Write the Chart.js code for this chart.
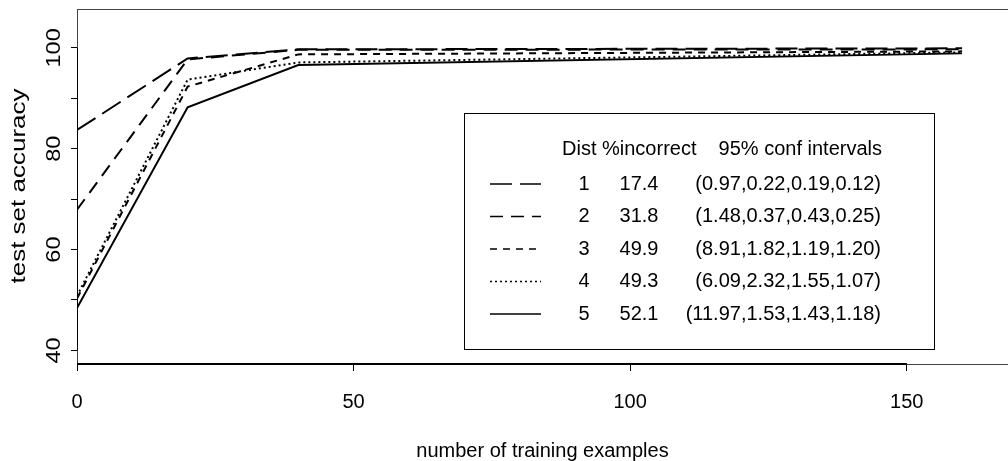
<!DOCTYPE html>
<html>
<head>
<meta charset="utf-8">
<script src="https://cdn.jsdelivr.net/npm/chart.js@4.4.0/dist/chart.umd.min.js"></script>
<style>
  body { margin: 0; background: #fff; }
  canvas { display: block; }
</style>
</head>
<body>
<canvas id="accuracyChart" width="1008" height="461"></canvas>
<script>
// data
const trainingExamples = [0, 20, 40, 160];
const dist1 = [83.7, 97.9, 99.7, 99.9];
const dist2 = [67.9, 97.7, 99.6, 99.7];
const dist3 = [50.3, 92.3, 98.7, 99.3];
const dist4 = [50.8, 93.7, 97.1, 99.1];
const dist5 = [48.4, 88.2, 96.6, 98.9];

const distNames = ['1', '2', '3', '4', '5'];
const pctIncorrect = ['17.4', '31.8', '49.9', '49.3', '52.1'];
const confIntervals = [
  '(0.97,0.22,0.19,0.12)',
  '(1.48,0.37,0.43,0.25)',
  '(8.91,1.82,1.19,1.20)',
  '(6.09,2.32,1.55,1.07)',
  '(11.97,1.53,1.43,1.18)'
];

const xTicks = [0, 50, 100, 150];
const yTicks = [40, 50, 60, 70, 80, 90, 100];
const yLabels = [40, 60, 80, 100];

const lineDashes = [[22, 8], [13, 8], [7, 6], [2, 3], []];
const FONT = '"Liberation Sans", Arial, sans-serif';

const allSeries = [dist1, dist2, dist3, dist4, dist5];

const datasets = allSeries.map((vals, i) => ({
  label: 'Dist ' + distNames[i],
  data: trainingExamples.map((x, j) => ({ x: x, y: vals[j] })),
  borderColor: '#000',
  borderWidth: 2,
  borderDash: lineDashes[i],
  pointRadius: 0,
  tension: 0,
  fill: false
}));

// box, axis lines, rotated y labels and the legend table
const extras = {
  id: 'extras',
  afterDraw(chart) {
    const ctx = chart.ctx;
    const area = chart.chartArea;
    const xs = chart.scales.x;
    const ys = chart.scales.y;
    ctx.save();

    ctx.strokeStyle = '#444';
    ctx.lineWidth = 1;
    ctx.strokeRect(area.left + 0.5, area.top + 0.5, area.right - area.left + 20, area.bottom - area.top);

    ctx.strokeStyle = '#000';
    ctx.lineWidth = 2;
    ctx.beginPath();
    ctx.moveTo(xs.getPixelForValue(xTicks[0]), area.bottom);
    ctx.lineTo(xs.getPixelForValue(xTicks[xTicks.length - 1]), area.bottom);
    ctx.stroke();
    ctx.lineWidth = 1;
    ctx.beginPath();
    ctx.moveTo(area.left + 0.5, ys.getPixelForValue(yTicks[0]));
    ctx.lineTo(area.left + 0.5, ys.getPixelForValue(yTicks[yTicks.length - 1]));
    ctx.stroke();

    // y tick labels + title, rotated and a bit stretched like the original
    ctx.fillStyle = '#000';
    ctx.textAlign = 'center';
    ctx.textBaseline = 'middle';
    ctx.font = '20px ' + FONT;
    yLabels.forEach(v => {
      ctx.save();
      ctx.translate(54, ys.getPixelForValue(v));
      ctx.rotate(-Math.PI / 2);
      ctx.scale(1.18, 1);
      ctx.fillText(String(v), 0, 0);
      ctx.restore();
    });
    ctx.save();
    ctx.translate(19, 186);
    ctx.rotate(-Math.PI / 2);
    ctx.scale(1.3, 1);
    ctx.fillText('test set accuracy', 0, 0);
    ctx.restore();

    // legend
    const bx = 464, by = 113, bw = 470, bh = 236;
    ctx.strokeStyle = '#000';
    ctx.lineWidth = 1;
    ctx.strokeRect(bx + 0.5, by + 0.5, bw, bh);

    ctx.textBaseline = 'middle';
    ctx.textAlign = 'left';
    ctx.fillText('Dist', bx + 98, by + 36);
    ctx.fillText('%incorrect', bx + 138, by + 36);
    ctx.textAlign = 'right';
    ctx.fillText('95% conf intervals', bx + 418, by + 36);

    distNames.forEach((d, i) => {
      const ry = by + 71 + i * 32.5;
      ctx.save();
      ctx.lineWidth = 1.5;
      ctx.setLineDash(lineDashes[i]);
      ctx.beginPath();
      ctx.moveTo(bx + 26, ry);
      ctx.lineTo(bx + 77, ry);
      ctx.stroke();
      ctx.restore();
      ctx.textAlign = 'center';
      ctx.fillText(d, bx + 120, ry);
      ctx.fillText(pctIncorrect[i], bx + 175, ry);
      ctx.textAlign = 'right';
      ctx.fillText(confIntervals[i], bx + 417, ry);
    });

    ctx.restore();
  }
};

new Chart(document.getElementById('accuracyChart'), {
  type: 'line',
  data: { datasets: datasets },
  options: {
    responsive: false,
    animation: false,
    layout: { padding: { left: 71, right: 0, top: 9, bottom: 0 } },
    scales: {
      x: {
        type: 'linear',
        min: 0,
        max: 168.3,
        afterBuildTicks: s => { s.ticks = xTicks.map(v => ({ value: v })); },
        grid: { display: true, drawOnChartArea: false, drawTicks: true, tickLength: 7, color: '#000' },
        border: { display: false },
        ticks: {
          color: '#000',
          padding: 21,
          maxRotation: 0,
          autoSkip: false,
          font: { family: FONT, size: 20, lineHeight: 1 }
        },
        title: {
          display: true,
          text: 'number of training examples',
          color: '#000',
          font: { family: FONT, size: 20, lineHeight: 1 },
          padding: { top: 8, bottom: 0 }
        }
      },
      y: {
        min: 37.3,
        max: 107.7,
        afterBuildTicks: s => { s.ticks = yTicks.map(v => ({ value: v })); },
        grid: { display: true, drawOnChartArea: false, drawTicks: true, tickLength: 6, color: '#000' },
        border: { display: false },
        ticks: { display: false }
      }
    },
    plugins: {
      legend: { display: false },
      tooltip: { enabled: false }
    }
  },
  plugins: [extras]
});
</script>
</body>
</html>
